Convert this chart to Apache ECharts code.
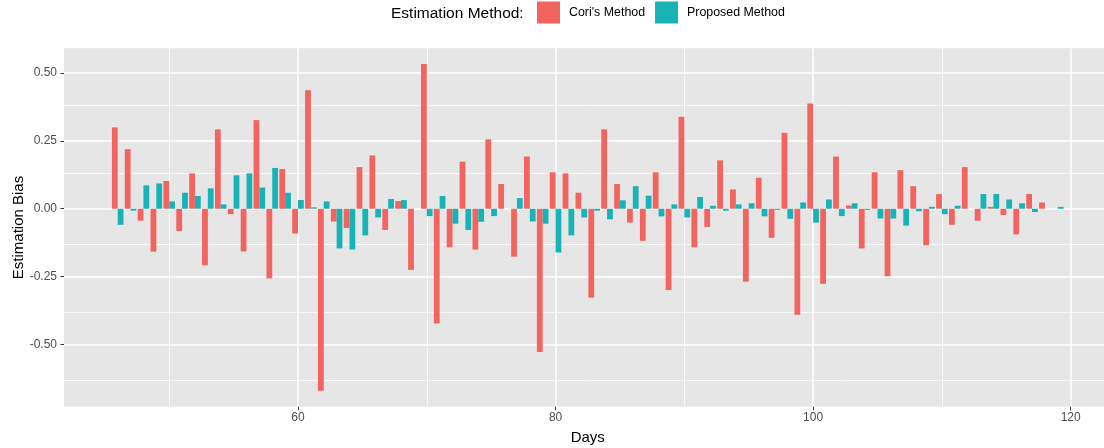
<!DOCTYPE html>
<html>
<head>
<meta charset="utf-8">
<script src="https://cdn.jsdelivr.net/npm/echarts@6/dist/echarts.min.js"></script>
<style>
html,body{margin:0;padding:0;background:#fff;}
#chart{width:1104px;height:448px;}
</style>
</head>
<body>
<div id="chart"></div>
<script>
var days = [46,47,48,49,50,51,52,53,54,55,56,57,58,59,60,61,62,63,64,65,66,67,68,69,70,71,72,73,74,75,76,77,78,79,80,81,82,83,84,85,86,87,88,89,90,91,92,93,94,95,96,97,98,99,100,101,102,103,104,105,106,107,108,109,110,111,112,113,114,115,116,117,118,119];
var cori = [0.299,0.219,-0.044,-0.158,0.102,-0.082,0.130,-0.208,0.292,-0.020,-0.157,0.326,-0.256,0.146,-0.091,0.436,-0.669,-0.047,-0.071,0.153,0.196,-0.078,0.028,-0.225,0.532,-0.422,-0.142,0.173,-0.150,0.255,0.091,-0.176,0.192,-0.527,0.134,0.130,0.059,-0.327,0.292,0.091,-0.051,-0.118,0.134,-0.299,0.338,-0.142,-0.067,0.178,0.071,-0.268,0.114,-0.107,0.279,-0.390,0.387,-0.276,0.192,0.012,-0.146,0.134,-0.248,0.142,0.083,-0.134,0.054,-0.059,0.153,-0.044,0.007,-0.023,-0.094,0.054,0.023,0];
var proposed = [-0.059,-0.007,0.086,0.093,0.027,0.059,0.047,0.075,0.016,0.123,0.130,0.078,0.150,0.059,0.032,0.005,0.027,-0.146,-0.150,-0.098,-0.032,0.036,0.032,0,-0.027,0.047,-0.055,-0.078,-0.048,-0.027,0,0.039,-0.047,-0.055,-0.161,-0.098,-0.032,-0.007,-0.039,0.031,0.083,0.048,-0.028,0.016,-0.032,0.043,0.011,-0.007,0.016,0.020,-0.028,-0.004,-0.037,0.023,-0.051,0.034,-0.027,0.020,-0.004,-0.036,-0.036,-0.062,-0.009,0.007,-0.020,0.011,0,0.054,0.054,0.034,0.020,-0.012,0,0.007];
var xTicks = [60,80,100,120];
var xMinor = [50,70,90,110];
var yTicks = [-0.5,-0.25,0,0.25,0.5];
var yMinor = [-0.625,-0.375,-0.125,0.125,0.375];
var seriesNames = ["Cori's Method","Proposed Method"];
var seriesColors = ['#F2645F','#17B3B6'];

function pairs(vals){ return days.map(function(d,i){ return [d, vals[i]]; }); }
var minorLines = xMinor.map(function(v){ return {xAxis:v}; })
  .concat(yMinor.map(function(v){ return {yAxis:v}; }));

var FONT = 'Liberation Sans, Arial, sans-serif';
var chart = echarts.init(document.getElementById('chart'), null, {renderer:'canvas'});
chart.setOption({
  animation:false,
  title:{
    text:'Estimation Method:', left:386, top:0.5,
    textStyle:{fontFamily:FONT, fontSize:15.5, fontWeight:'normal', color:'#000'}
  },
  legend:{
    left:532, top:-3.5, itemWidth:23, itemHeight:22, itemGap:10, icon:'rect',
    selectedMode:false,
    textStyle:{fontFamily:FONT, fontSize:12.4, color:'#000', padding:[0,0,0,4]},
    data:seriesNames
  },
  grid:{
    left:64, top:48.3, bottom:41.3, right:-7.5, outerBoundsMode:'none',
    show:true, backgroundColor:'#E6E6E6', borderWidth:0, containLabel:false
  },
  xAxis:{
    type:'value', min:41.83, max:123.17,
    name:'Days', nameLocation:'middle', nameGap:24, nameMoveOverlap:false,
    nameTextStyle:{fontFamily:FONT, fontSize:15, color:'#000'},
    axisLine:{show:false, onZero:false},
    axisTick:{show:true, length:3.5, lineStyle:{color:'#333', width:1}, customValues:xTicks},
    axisLabel:{customValues:xTicks, margin:5, fontFamily:FONT, fontSize:12, color:'#4D4D4D'},
    splitLine:{show:true, lineStyle:{color:'#fff', width:1.5}},
    minorSplitLine:{show:false}
  },
  yAxis:{
    type:'value', min:-0.728, max:0.590,
    name:'Estimation Bias', nameLocation:'middle', nameGap:38, nameRotate:90, nameMoveOverlap:false,
    nameTextStyle:{fontFamily:FONT, fontSize:15, color:'#000'},
    axisLine:{show:false, onZero:false},
    axisTick:{show:true, length:3.5, lineStyle:{color:'#333', width:1}, customValues:yTicks},
    axisLabel:{customValues:yTicks, margin:7, fontFamily:FONT, fontSize:12, color:'#4D4D4D',
      formatter:function(v){ return v.toFixed(2); }},
    splitLine:{show:true, lineStyle:{color:'#fff', width:1.5}},
    minorSplitLine:{show:false}
  },
  series:[
    {name:'minorGrid', type:'line', data:[], z:1, silent:true,
      markLine:{silent:true, z:1, symbol:'none', label:{show:false}, animation:false,
        lineStyle:{color:'#fff', width:0.7, type:'solid'}, emphasis:{disabled:true},
        data:minorLines}},
    {name:seriesNames[0], type:'bar', data:pairs(cori), barWidth:'45%', barGap:'0%', z:3,
      itemStyle:{color:seriesColors[0]}},
    {name:seriesNames[1], type:'bar', data:pairs(proposed), barWidth:'45%', barGap:'0%', z:3,
      itemStyle:{color:seriesColors[1]}}
  ]
});
</script>
</body>
</html>
